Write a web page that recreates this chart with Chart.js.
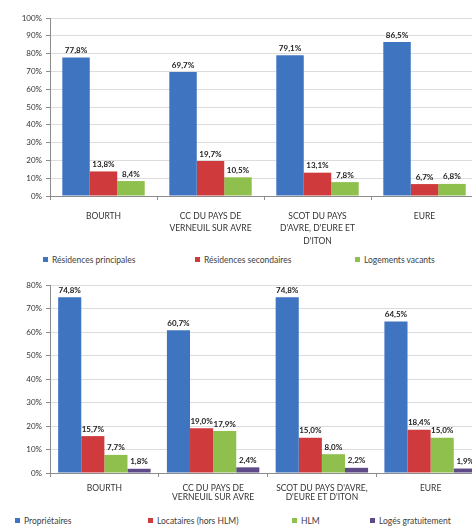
<!DOCTYPE html>
<html lang="fr">
<head>
<meta charset="utf-8">
<script src="https://cdn.jsdelivr.net/npm/chart.js@4.4.0/dist/chart.umd.min.js"></script>
<style>
  html, body { margin: 0; padding: 0; background: #fff; overflow: hidden; width: 472px; height: 529px; }
  .box { position: relative; width: 508px; }
  #haut { height: 250px; }
  #bas { height: 244px; }
  .legende { position: relative; width: 508px; height: 17px; font: 8.5px Lato, "Liberation Sans", sans-serif; color: #404040; }
  .legende span { position: absolute; top: 5px; white-space: nowrap; line-height: 10px; }
  .legende i { display: inline-block; width: 5px; height: 5px; margin-right: 4px; vertical-align: 1px; }
</style>
</head>
<body>
<div class="box" id="haut"><canvas id="chartHaut"></canvas></div>
<div class="legende" id="legendeHaut"></div>
<div class="box" id="bas"><canvas id="chartBas"></canvas></div>
<div class="legende" id="legendeBas"></div>
<script>
/* ===================== DONNEES ===================== */
const categoriesHaut = ['BOURTH', ['CC DU PAYS DE', 'VERNEUIL SUR AVRE'], ['SCOT DU PAYS', "D'AVRE, D'EURE ET", "D'ITON"], 'EURE'];
const categoriesBas = ['BOURTH', ['CC DU PAYS DE', 'VERNEUIL SUR AVRE'], ["SCOT DU PAYS D'AVRE,", "D'EURE ET D'ITON"], 'EURE'];

const residencesPrincipales = [77.8, 69.7, 79.1, 86.5];
const residencesSecondaires = [13.8, 19.7, 13.1, 6.7];
const logementsVacants = [8.4, 10.5, 7.8, 6.8];

const proprietaires = [74.8, 60.7, 74.8, 64.5];
const locataires = [15.7, 19.0, 15.0, 18.4];
const hlm = [7.7, 17.9, 8.0, 15.0];
const logesGratuitement = [1.8, 2.4, 2.2, 1.9];

const ticksHaut = [0, 10, 20, 30, 40, 50, 60, 70, 80, 90, 100];
const ticksBas = [0, 10, 20, 30, 40, 50, 60, 70, 80];

const BLEU = '#3f74c0', ROUGE = '#cf3b3d', VERT = '#8fbf4d', VIOLET = '#5e4a86';
const POLICE = 'Lato, "Liberation Sans", sans-serif';

/* ===================== ETIQUETTES DE VALEURS ===================== */
const etiquettes = {
  id: 'etiquettes',
  afterDatasetsDraw(chart) {
    const ctx = chart.ctx;
    ctx.save();
    ctx.font = 'bold 8px ' + POLICE;
    ctx.fillStyle = '#222';
    ctx.textAlign = 'center';
    ctx.textBaseline = 'bottom';
    chart.data.datasets.forEach((ds, i) => {
      chart.getDatasetMeta(i).data.forEach((bar, j) => {
        const txt = ds.data[j].toFixed(1).replace('.', ',') + '%';
        ctx.fillText(txt, bar.x, bar.y - 3);
      });
    });
    ctx.restore();
  }
};

/* ===================== LEGENDE HTML ===================== */
function legende(chart, id, gauches) {
  const el = document.getElementById(id);
  chart.data.datasets.forEach((ds, i) => {
    const s = document.createElement('span');
    s.style.left = gauches[i] + 'px';
    s.innerHTML = '<i style="background:' + ds.backgroundColor + '"></i>' + ds.label;
    el.appendChild(s);
  });
}

function options(maxY, ticks, hauteurX, lignes, padX, padDroite, padBas) {
  return {
    responsive: true,
    maintainAspectRatio: false,
    animation: false,
    layout: { padding: { top: 18, right: padDroite, left: 0, bottom: padBas } },
    plugins: {
      legend: { display: false },
      tooltip: { enabled: false }
    },
    scales: {
      x: {
        grid: { display: true, drawOnChartArea: false, color: '#8c8c8c', tickLength: 4, offset: true },
        border: { color: '#8c8c8c' },
        ticks: { color: '#333', font: { family: POLICE, size: 8.5, lineHeight: lignes }, maxRotation: 0, autoSkip: false, padding: padX },
        afterFit(scale) { scale.height = hauteurX; }
      },
      y: {
        min: 0, max: maxY,
        afterBuildTicks(scale) { scale.ticks = ticks.map(v => ({ value: v })); },
        grid: { color: '#dcdcdc', tickColor: '#8c8c8c', tickLength: 4 },
        border: { color: '#8c8c8c' },
        ticks: { color: '#333', font: { family: POLICE, size: 8 }, padding: 4, callback: v => v + '%' },
        afterFit(scale) { scale.width = 50; }
      }
    }
  };
}

document.addEventListener('DOMContentLoaded', () => {
  const haut = new Chart(document.getElementById('chartHaut').getContext('2d'), {
    type: 'bar',
    data: {
      labels: categoriesHaut,
      datasets: [
        { label: 'Résidences principales', data: residencesPrincipales, backgroundColor: BLEU },
        { label: 'Résidences secondaires', data: residencesSecondaires, backgroundColor: ROUGE },
        { label: 'Logements vacants', data: logementsVacants, backgroundColor: VERT }
      ].map(d => Object.assign(d, { barPercentage: 1, categoryPercentage: 0.77 }))
    },
    options: options(100, ticksHaut, 50, 1.45, 10, 30, 4),
    plugins: [etiquettes]
  });
  legende(haut, 'legendeHaut', [43, 195, 355]);

  const bas = new Chart(document.getElementById('chartBas').getContext('2d'), {
    type: 'bar',
    data: {
      labels: categoriesBas,
      datasets: [
        { label: 'Propriétaires', data: proprietaires, backgroundColor: BLEU },
        { label: 'Locataires (hors HLM)', data: locataires, backgroundColor: ROUGE },
        { label: 'HLM', data: hlm, backgroundColor: VERT },
        { label: 'Logés gratuitement', data: logesGratuitement, backgroundColor: VIOLET }
      ].map(d => Object.assign(d, { barPercentage: 1, categoryPercentage: 0.85 }))
    },
    options: options(80, ticksBas, 34, 1.15, 6, 23, 4),
    plugins: [etiquettes]
  });
  legende(bas, 'legendeBas', [15, 148, 292, 370]);
});
</script>
</body>
</html>
